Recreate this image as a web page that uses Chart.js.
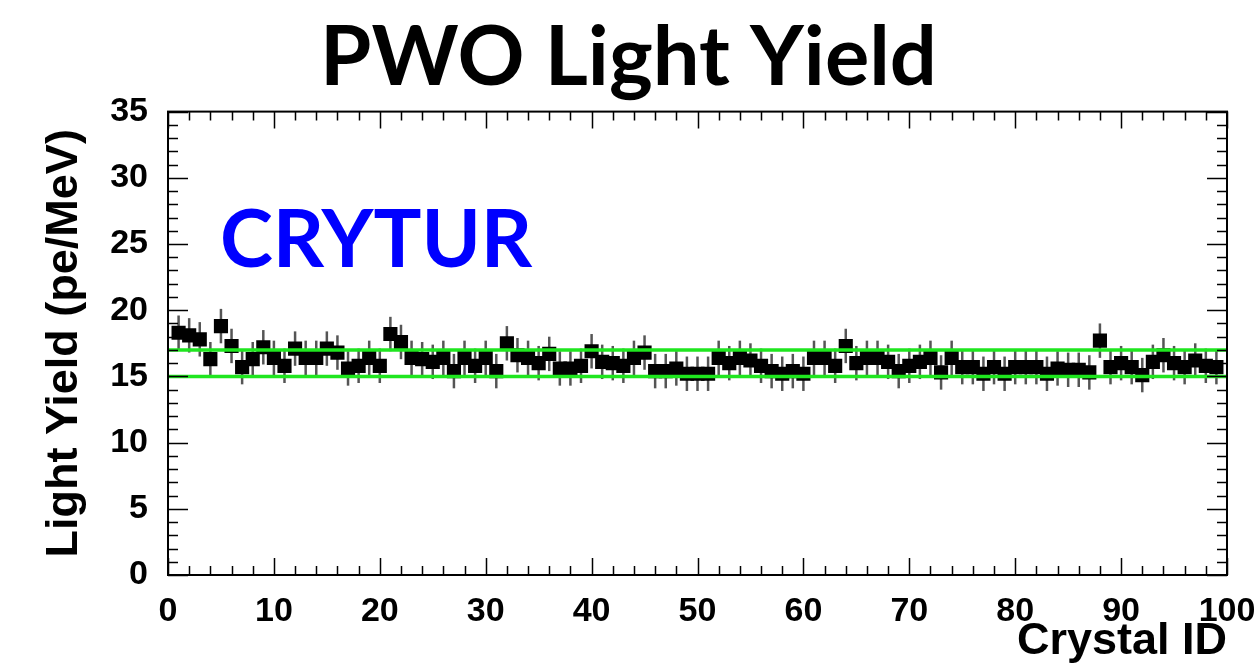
<!DOCTYPE html>
<html>
<head>
<meta charset="utf-8">
<script src="https://cdn.jsdelivr.net/npm/chart.js@4/dist/chart.umd.min.js"></script>
<style>
  html, body { margin: 0; padding: 0; background: #fff; }
  #c { display: block; }
</style>
</head>
<body>
<canvas id="c" width="1257" height="669"></canvas>
<script>
'use strict';

var crystalIds = [
   1,  2,  3,  4,  5,  6,  7,  8,  9, 10, 11, 12, 13, 14, 15, 16, 17, 18, 19, 20,
  21, 22, 23, 24, 25, 26, 27, 28, 29, 30, 31, 32, 33, 34, 35, 36, 37, 38, 39, 40,
  41, 42, 43, 44, 45, 46, 47, 48, 49, 50, 51, 52, 53, 54, 55, 56, 57, 58, 59, 60,
  61, 62, 63, 64, 65, 66, 67, 68, 69, 70, 71, 72, 73, 74, 75, 76, 77, 78, 79, 80,
  81, 82, 83, 84, 85, 86, 87, 88, 89, 90, 91, 92, 93, 94, 95, 96, 97, 98, 99
];
var lightYield = [
  18.3, 18.1, 17.8, 16.3, 18.8, 17.3, 15.7, 16.3, 17.2, 16.4,
  15.8, 17.1, 16.4, 16.4, 17.1, 16.8, 15.6, 15.8, 16.4, 15.8,
  18.2, 17.6, 16.4, 16.3, 16.1, 16.4, 15.4, 16.4, 15.8, 16.4,
  15.4, 17.5, 16.6, 16.4, 16.0, 16.7, 15.6, 15.6, 15.8, 16.9,
  16.1, 16.0, 15.8, 16.4, 16.8, 15.4, 15.4, 15.6, 15.2, 15.2,
  15.2, 16.4, 16.0, 16.4, 16.2, 15.8, 15.4, 15.2, 15.4, 15.2,
  16.4, 16.4, 15.8, 17.3, 16.0, 16.4, 16.4, 16.1, 15.4, 15.8,
  16.1, 16.4, 15.3, 16.4, 15.7, 15.7, 15.2, 15.7, 15.2, 15.7,
  15.7, 15.7, 15.2, 15.6, 15.5, 15.5, 15.3, 17.7, 15.7, 16.0,
  15.7, 15.1, 16.1, 16.6, 16.0, 15.7, 16.2, 15.8, 15.7
];
var yieldError = 1.3;        // half length of the error bars
var bandLow = 15;            // green reference lines
var bandHigh = 17;
var xTicks = [0, 100, 10, 2];   // min, max, major step, minor step
var yTicks = [0, 35, 5, 1];

var pts = crystalIds.map(function(id, i) {
    return {x: id, y: lightYield[i]};
});

var errorBars = {
    id: 'errorBars',
    beforeDatasetsDraw: function(chart) {
        var ctx = chart.ctx;
        var xs = chart.scales.x, ys = chart.scales.y;
        ctx.save();
        ctx.strokeStyle = '#555';
        ctx.lineWidth = 2.5;
        pts.forEach(function(p) {
            var px = xs.getPixelForValue(p.x);
            ctx.beginPath();
            ctx.moveTo(px, ys.getPixelForValue(p.y - yieldError));
            ctx.lineTo(px, ys.getPixelForValue(p.y + yieldError));
            ctx.stroke();
        });
        ctx.restore();
    }
};

var rootFrame = {
    id: 'rootFrame',
    afterDraw: function(chart) {
        var ctx = chart.ctx;
        var a = chart.chartArea;
        var xs = chart.scales.x, ys = chart.scales.y;
        ctx.save();
        ctx.strokeStyle = '#000';
        ctx.lineWidth = 1.5;
        ctx.beginPath();
        var v, p, len;
        for (v = xTicks[0]; v <= xTicks[1]; v += xTicks[3]) {
            p = Math.round(xs.getPixelForValue(v)) + 0.5;
            len = (v % xTicks[2] === 0) ? 17 : 9;
            ctx.moveTo(p, a.bottom); ctx.lineTo(p, a.bottom - len);
            ctx.moveTo(p, a.top); ctx.lineTo(p, a.top + len);
        }
        for (v = yTicks[0]; v <= yTicks[1]; v += yTicks[3]) {
            p = Math.round(ys.getPixelForValue(v)) + 0.5;
            len = (v % yTicks[2] === 0) ? 20 : 10;
            ctx.moveTo(a.left, p); ctx.lineTo(a.left + len, p);
            ctx.moveTo(a.right, p); ctx.lineTo(a.right - len, p);
        }
        ctx.stroke();
        ctx.lineWidth = 2;
        ctx.strokeRect(a.left, a.top, a.right - a.left, a.bottom - a.top);
        ctx.restore();
    }
};

var vendorLabel = {
    id: 'vendorLabel',
    afterDatasetsDraw: function(chart) {
        var ctx = chart.ctx;
        ctx.save();
        ctx.fillStyle = '#0000ff';
        ctx.font = 'bold 80px Lato';
        ctx.textBaseline = 'alphabetic';
        ctx.fillText('CRYTUR', chart.scales.x.getPixelForValue(4.9), chart.scales.y.getPixelForValue(23.3));
        ctx.restore();
    }
};

var tickFont = {family: 'Liberation Sans', weight: 'bold', size: 34};
var axisTitleFont = {family: 'Liberation Sans', weight: 'bold', size: 45};

var chart = new Chart(document.getElementById('c').getContext('2d'), {
    type: 'scatter',
    data: {
        datasets: [
            {
                label: 'Light Yield',
                data: pts,
                pointStyle: 'rect',
                pointRadius: 10,
                pointHoverRadius: 10,
                backgroundColor: '#000',
                borderColor: '#000',
                borderWidth: 0,
                order: 2
            },
            {
                label: 'low',
                type: 'line',
                data: [{x: xTicks[0], y: bandLow}, {x: xTicks[1], y: bandLow}],
                borderColor: '#1fe61f',
                borderWidth: 3.5,
                pointRadius: 0,
                fill: false,
                order: 1
            },
            {
                label: 'high',
                type: 'line',
                data: [{x: xTicks[0], y: bandHigh}, {x: xTicks[1], y: bandHigh}],
                borderColor: '#1fe61f',
                borderWidth: 3.5,
                pointRadius: 0,
                fill: false,
                order: 1
            }
        ]
    },
    options: {
        responsive: false,
        animation: false,
        devicePixelRatio: 1,
        layout: {padding: {left: 0, right: 0, top: 0, bottom: 0}},
        plugins: {
            legend: {display: false},
            tooltip: {enabled: false},
            title: {
                display: true,
                text: 'PWO Light Yield',
                color: '#000',
                font: {family: 'Lato', weight: 'bold', size: 83},
                padding: {top: 8, bottom: 4}
            }
        },
        scales: {
            x: {
                type: 'linear',
                min: xTicks[0],
                max: xTicks[1],
                afterFit: function(s) {
                    s.height = 94;
                    s.paddingRight = 30;
                    s.paddingLeft = 0;
                },
                grid: {display: false},
                border: {display: false},
                ticks: {stepSize: xTicks[2], color: '#000', font: tickFont, padding: 8, maxRotation: 0},
                title: {
                    display: true,
                    text: 'Crystal ID',
                    align: 'end',
                    color: '#000',
                    font: axisTitleFont,
                    padding: {top: 0, bottom: 0}
                }
            },
            y: {
                type: 'linear',
                min: yTicks[0],
                max: yTicks[1],
                afterFit: function(s) { s.width = 168; },
                grid: {display: false},
                border: {display: false},
                ticks: {stepSize: yTicks[2], color: '#000', font: tickFont, padding: 12},
                title: {
                    display: true,
                    text: 'Light Yield (pe/MeV)',
                    color: '#000',
                    font: axisTitleFont,
                    padding: {top: 38, bottom: 0}
                }
            }
        }
    },
    plugins: [errorBars, rootFrame, vendorLabel]
});
</script>
</body>
</html>
